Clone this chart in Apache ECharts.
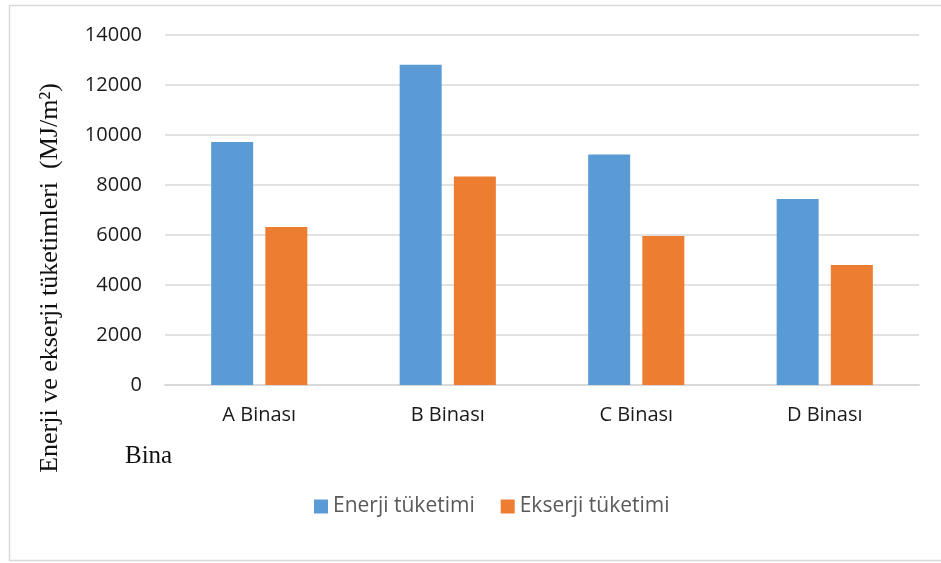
<!DOCTYPE html>
<html>
<head>
<meta charset="utf-8">
<script src="https://cdn.jsdelivr.net/npm/echarts@6/dist/echarts.min.js"></script>
<style>
  html, body { margin: 0; padding: 0; background: #ffffff; }
  #chart { width: 941px; height: 563px; }
</style>
</head>
<body>
<div id="chart"></div>
<script>
// Buildings and their consumption values (MJ/m²)
const categories = ['A Binası', 'B Binası', 'C Binası', 'D Binası'];
const energyConsumption = [9720, 12810, 9220, 7440];
const exergyConsumption = [6320, 8340, 5960, 4800];
const seriesNames = ['Enerji tüketimi', 'Ekserji tüketimi'];
const yTitle = 'Enerji ve ekserji tüketimleri  (MJ/m²)';
const xTitle = 'Bina';

const sansFont = '"Open Sans", "Noto Sans", sans-serif';
const serifFont = '"Liberation Serif", "DejaVu Serif", serif';

const chart = echarts.init(document.getElementById('chart'), null, { renderer: 'canvas' });

chart.setOption({
  animation: false,
  backgroundColor: '#ffffff',
  color: ['#5B9BD5', '#ED7D31'],
  grid: { left: 165, right: 22, top: 35, bottom: 178, containLabel: false },
  legend: {
    data: seriesNames,
    left: 309,
    top: 491,
    icon: 'rect',
    itemWidth: 14,
    itemHeight: 14,
    itemGap: 26,
    textStyle: { fontFamily: sansFont, fontSize: 21, color: '#595959' }
  },
  xAxis: {
    type: 'category',
    data: categories,
    axisLine: { show: true, lineStyle: { color: '#d9d9d9', width: 2 } },
    axisTick: { show: false },
    axisLabel: { fontFamily: sansFont, fontSize: 20, color: '#1a1a1a', margin: 20 }
  },
  yAxis: {
    type: 'value',
    min: 0,
    max: 14000,
    interval: 2000,
    axisLine: { show: false },
    axisTick: { show: false },
    axisLabel: {
      fontFamily: sansFont,
      fontSize: 20,
      color: '#1a1a1a',
      margin: 23,
      formatter: (v) => String(v)
    },
    splitLine: { lineStyle: { color: '#d9d9d9', width: 1.5 } }
  },
  series: [
    {
      name: seriesNames[0],
      type: 'bar',
      data: energyConsumption,
      barWidth: 42,
      barGap: '29%'
    },
    {
      name: seriesNames[1],
      type: 'bar',
      data: exergyConsumption,
      barWidth: 42,
      barGap: '29%'
    }
  ],
  graphic: [
    {
      type: 'rect',
      shape: { x: 9.5, y: 5.5, width: 940, height: 555 },
      style: { fill: 'none', stroke: '#d9d9d9', lineWidth: 1.5 },
      silent: true,
      z: -1
    },
    {
      type: 'text',
      x: 50,
      y: 278,
      rotation: Math.PI / 2,
      style: {
        text: yTitle,
        font: '26px ' + serifFont,
        fill: '#111111',
        textAlign: 'center',
        textVerticalAlign: 'middle'
      }
    },
    {
      type: 'text',
      x: 125,
      y: 456,
      style: {
        text: xTitle,
        font: '25px ' + serifFont,
        fill: '#111111',
        textAlign: 'left',
        textVerticalAlign: 'middle'
      }
    }
  ]
});
</script>
</body>
</html>
